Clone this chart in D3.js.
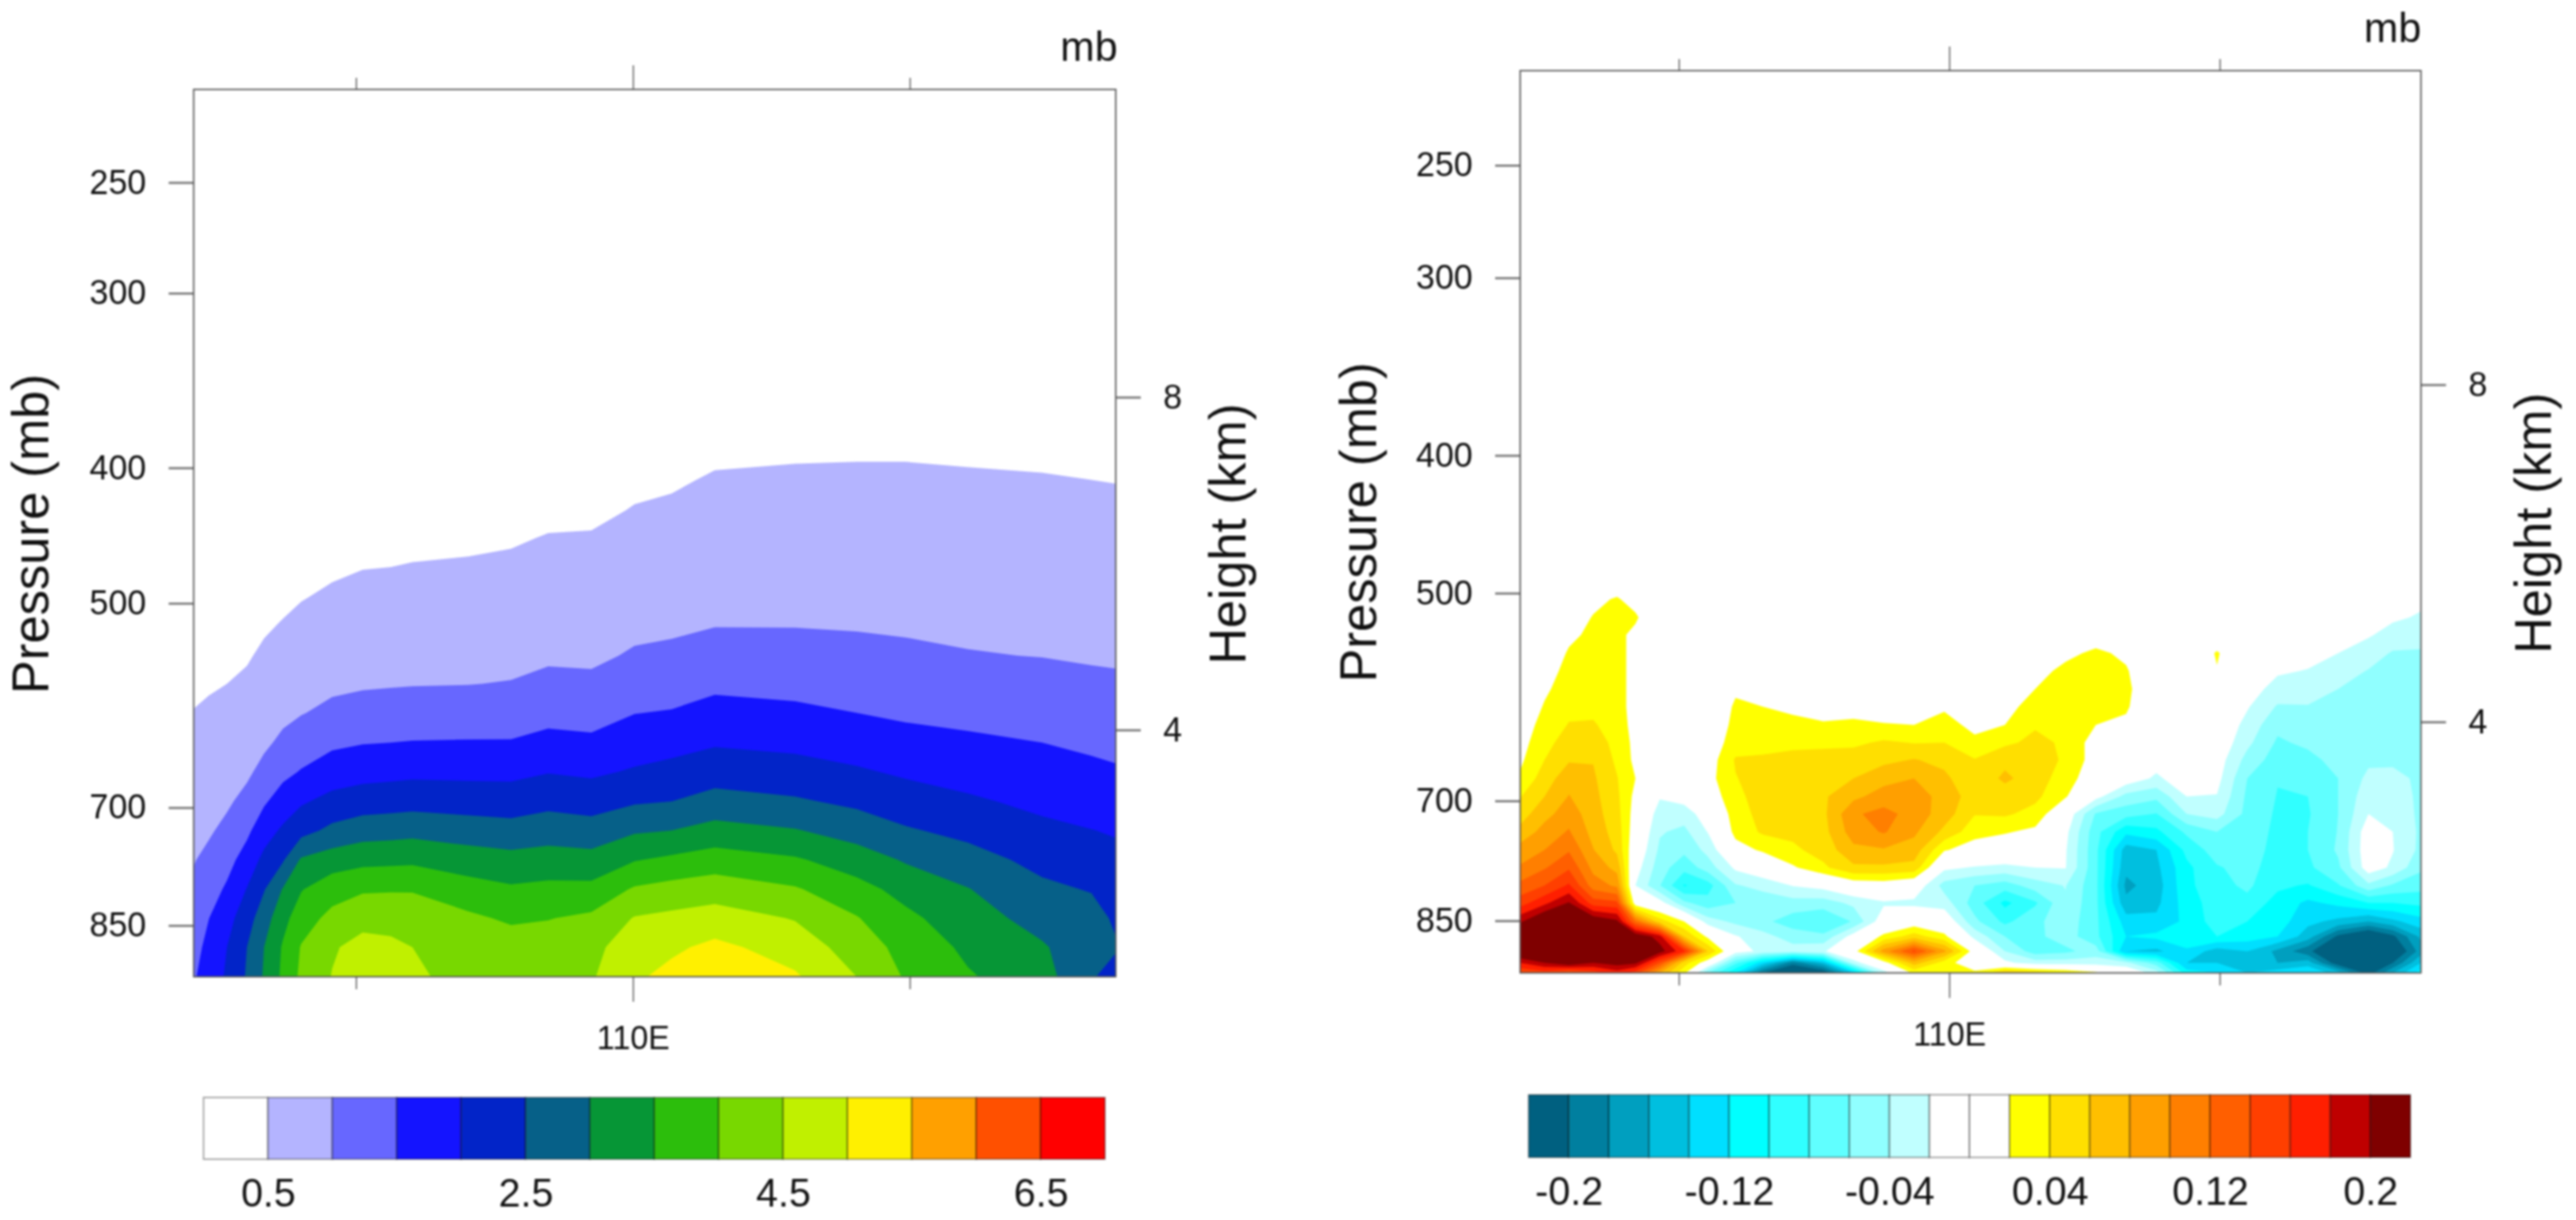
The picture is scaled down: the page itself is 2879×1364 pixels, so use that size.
<!DOCTYPE html>
<html><head><meta charset="utf-8">
<script src="https://d3js.org/d3.v7.min.js"></script>
<style>
html,body{margin:0;padding:0;background:#fff}
svg{display:block;filter:blur(0.8px)}
text{font-family:"Liberation Sans",Arial,sans-serif;fill:#111}
</style></head><body>
<svg id="chart" width="2879" height="1364"></svg>
<script>
// ---------- axis values ----------
const pressureTicks=[250,300,400,500,700,850];
const heightTicks=[4,8];
const lonMajor=[110];
const lonMinor=[105,115];
const lonExtent=[102.07,118.72];
const pressureExtent=[925,214.5];

// ---------- left field: value per column (longitude), bottom to top ----------
const leftPressures=[925,881,840,801,763,727,693,660,629,599,571,545,519,495,471,449,429,408,389];
const leftLons=[102.05,102.34,102.67,103.03,103.34,103.68,104.01,104.57,105.12,105.63,106.02,107.02,107.80,108.47,109.25,110.03,110.70,111.48,112.93,114.04,114.93,116.05,117.39,118.28,118.72];
const leftColumns=[
[1.41,1.30,1.19,1.07,.97,.88,.78,.69,.60,.51,.42,.34,.25,.16,.07,0,0,0,0],
[1.78,1.64,1.49,1.29,1.10,.95,.85,.76,.66,.56,.46,.37,.27,.17,.07,0,0,0,0],
[2.05,2.0,1.82,1.57,1.34,1.10,.94,.83,.72,.61,.50,.39,.28,.17,.06,0,0,0,0],
[2.55,2.5,2.29,2.02,1.7,1.40,1.12,.93,.81,.69,.57,.46,.34,.22,.10,0,0,0,0],
[3.05,3.0,2.77,2.47,2.13,1.78,1.44,1.12,.93,.81,.69,.57,.45,.33,.20,.08,0,0,0],
[3.6,3.55,3.34,3.03,2.45,2.08,1.72,1.38,1.08,.91,.78,.66,.53,.41,.28,.16,.03,0,0],
[4.1,4.03,3.77,3.47,3.06,2.33,1.94,1.53,1.24,.98,.86,.74,.61,.48,.36,.23,.10,0,0],
[4.52,4.45,4.14,3.8,3.25,2.62,2.15,1.75,1.41,1.1,.92,.8,.68,.56,.44,.32,.2,.08,0],
[4.85,4.65,4.36,3.94,3.36,2.78,2.25,1.83,1.48,1.18,.95,.84,.72,.6,.49,.38,.26,.14,.03],
[4.7,4.6,4.34,3.96,3.38,2.81,2.29,1.86,1.5,1.2,.97,.85,.73,.62,.5,.39,.28,.16,.05],
[4.55,4.5,4.24,3.97,3.4,2.85,2.32,1.89,1.52,1.23,.98,.86,.75,.63,.52,.4,.29,.18,.06],
[4.4,4.3,4.1,3.7,3.25,2.75,2.28,1.88,1.53,1.25,.99,.88,.77,.65,.54,.43,.32,.2,.09],
[4.35,4.26,3.92,3.57,3.16,2.69,2.25,1.88,1.53,1.27,1.02,.88,.79,.68,.57,.46,.35,.24,.13],
[4.4,4.25,3.98,3.63,3.21,2.78,2.36,1.98,1.64,1.35,1.1,.94,.83,.73,.62,.52,.41,.3,.2],
[4.45,4.39,4.1,3.64,3.17,2.71,2.29,1.92,1.59,1.33,1.08,.93,.83,.73,.63,.53,.42,.32,.22],
[4.92,4.72,4.53,4.06,3.47,2.94,2.45,2.05,1.76,1.49,1.26,1.04,.92,.82,.72,.62,.52,.42,.32],
[5.15,4.91,4.62,4.18,3.6,3.0,2.5,2.15,1.83,1.53,1.3,1.08,.94,.84,.74,.65,.55,.46,.36],
[5.4,5.12,4.72,4.28,3.74,3.18,2.68,2.28,1.95,1.67,1.4,1.2,.99,.9,.81,.71,.62,.53,.44],
[5.06,4.78,4.47,4.05,3.56,3.03,2.56,2.2,1.88,1.59,1.37,1.17,.99,.9,.81,.72,.63,.55,.46],
[4.5,4.27,4.03,3.68,3.25,2.79,2.4,2.06,1.77,1.5,1.31,1.13,.97,.89,.78,.72,.63,.55,.47],
[3.95,3.83,3.62,3.33,2.95,2.55,2.23,1.93,1.63,1.44,1.26,1.08,.95,.87,.79,.71,.63,.55,.47],
[3.55,3.40,3.2,3.02,2.69,2.37,2.07,1.82,1.58,1.38,1.2,1.02,.93,.85,.77,.69,.61,.54,.45],
[3.2,3.05,2.83,2.6,2.36,2.11,1.89,1.7,1.5,1.32,1.15,.99,.9,.82,.74,.65,.58,.52,.44],
[2.55,2.7,2.7,2.47,2.24,2.01,1.8,1.6,1.42,1.25,1.08,.96,.88,.81,.73,.65,.58,.5,.42],
[2.3,2.55,2.42,2.26,2.12,1.96,1.76,1.55,1.38,1.22,1.06,.95,.87,.8,.72,.65,.57,.49,.41]
];
const leftLevels=[.5,1,1.5,2,2.5,3,3.5,4,4.5,5,5.5,6,6.5];
const leftColors=["#ffffff","#b4b4ff","#6767ff","#1414ff","#0224c8","#066088","#069636","#2cbe0c","#78d800","#c0f000","#fff000","#ffa000","#ff5000","#ff0000"];
const leftBarTicks=[.5,2.5,4.5,6.5];

// ---------- right field: value x100 per column, bottom to top ----------
const rightPressures=[925,910,893,872,851,826,803,780,758,736,715,695,675,655,637,619,601,584,567,551,535,520,505,491];
const rightLons=[102.05,102.52,102.97,103.42,103.86,104.2,104.65,105.1,105.54,106.05,106.55,107.11,107.67,108.23,108.79,109.35,109.91,110.47,111.03,111.59,112.15,112.71,113.27,113.83,114.39,114.95,115.51,116.07,116.63,117.19,117.75,118.2,118.72];
const rightColumns=[
[14,18,23,25,19.5,15,12.5,10.2,8.8,6.5,5,3.8,2.2,1.5,1,.5,0,0,0,0,0,0,0,0],
[15,20,25,26,23,17.5,14,11.8,10,8.8,7.3,6,5,4,3.5,2.9,2.2,1.6,1,.6,.3,0,0,0],
[13,22,27,28,26,20.2,16.3,13.7,11.8,10.2,9.1,8.1,7.2,5.8,4.7,4.1,3.5,3.1,2.7,2.2,1.6,1,.5,0],
[15,20,25,27,22,15,11,9.4,8.1,7.3,6.9,6.6,6.3,5.9,5,4.2,3.5,3.1,2.8,2.6,2.4,2.1,1.5,.5],
[17,21,24,25,20.5,14.5,9.6,7.3,5.6,5.1,4.7,4.4,4.1,3.6,3.4,3.1,3,2.8,2.7,2.6,2.5,2.4,2.2,.8],
[15,20.5,23,22,12,.5,-2,-1,0,.6,1,1.4,2,1.5,1.4,1.2,1,1.2,1.3,1.4,1.5,2.3,1.2,0],
[8,14,21,19,5,-1,-5.9,-5.1,-4.4,-3.8,-3,-1.8,-.5,0,0,0,0,0,0,0,0,0,0,0],
[2.5,5,16.5,6,2,-5.5,-10.2,-7.3,-5.5,-4.5,-3.1,-1,0,0,0,0,0,0,0,0,0,0,0,0],
[-6,.5,6,1.5,-3,-7.2,-8.9,-5,-3.4,-1.9,-.8,.6,1.2,.8,.6,.2,0,0,0,0,0,0,0,0],
[-12,-7.5,-1,-1.8,-4.5,-6,-4.2,-1.6,1.1,2.6,3,3.4,3.9,4.2,3,2.6,2.3,1.7,.5,0,0,0,0,0],
[-20,-13,-2.5,-3.2,-5.5,-5.4,-3.3,-.3,2.3,4.3,4.7,5,4.9,4.3,3.3,2.6,2,1.3,.6,0,0,0,0,0],
[-24,-19,-3,-5,-7,-4.8,-1.9,1.7,3.6,4.5,5,5.3,5.2,4.5,3.6,2.5,1.6,.9,.3,0,0,0,0,0],
[-22,-15,-2.3,-5.5,-8,-5,-1.2,3.6,4.8,5.3,5.5,5.7,5.3,4.7,3.6,2.2,1.2,.5,0,0,0,0,0,0],
[-14,-3,1,-1,-5.8,-3.5,.5,5.6,7.5,9,9.7,7.5,6,5,3.6,2.4,1.2,.6,0,0,0,0,0,0],
[-3,1,9,2.5,-.5,-2.3,.8,5.6,7.8,10.2,10.7,8.9,7.3,5.5,4.3,2.1,1.2,.6,0,0,0,0,0,0],
[2.5,7,14.5,5,.5,-2.5,-.3,5.3,7.1,8.4,9.2,9.1,8,6.1,3.9,2,1.3,.7,0,0,0,0,0,0],
[2.3,3,8.5,2.5,0,-3,-4.8,-1.5,2.2,5.5,7,7.2,6.4,5.5,4,2.8,1.7,.9,.3,0,0,0,0,0],
[2.5,.2,.8,-2.6,-5.5,-7,-6,-2.2,.9,2.8,4.1,5,4.6,4.1,2.5,1.4,.9,.5,.2,0,0,0,0,0],
[6,-1.5,-4,-6,-8.5,-10.5,-7,-2.6,.5,2.2,4.3,5,6.4,5.5,3.6,2,1.5,1,.5,.2,0,0,0,0],
[5,-3,-7,-6.5,-6.5,-8.3,-5,-2,-.3,1.5,3.3,4.5,5,5,4.5,3.8,2.6,2,1.3,.7,.2,0,0,0],
[4,-3,-6.5,-5,-4.8,-4.3,-3.9,-1.9,-1.8,-1.4,-.3,2.2,3,3.7,3.7,3.8,3.2,2.9,2.5,1.5,.8,.2,0,0],
[2.5,-3,-5,-7.5,-7.5,-7.5,-7.5,-7.5,-7.5,-7.3,-6.2,-1.2,.5,1,1,2,2.9,3,2.9,2.4,.9,.3,0,0],
[.5,-3.5,-14,-12,-13,-15.5,-16.5,-15.5,-15,-11.5,-7.2,-4.7,-.6,.3,.7,1.7,2.2,2.5,2.2,1.6,.3,0,0,0],
[-3,-7,-14.5,-11.5,-13.5,-14.5,-15,-14.5,-14,-10.5,-8.1,-5.5,-2.4,-1,0,.3,.5,0,0,0,0,0,0,0],
[-11,-14,-12.5,-10,-11.5,-11,-10.5,-10.5,-9.4,-7.6,-4,-2,-.6,0,0,0,0,0,0,0,0,0,0,0],
[-12,-14,-15,-10,-9,-9,-8.7,-8.2,-7,-6,-3.2,-2.1,-1.3,-.9,-.3,0,0,.5,1.9,2.2,.5,0,0,0],
[-14,-14,-14,-11,-10,-8.6,-7.6,-7.3,-7,-6.8,-6.6,-6.4,-6,-4.7,-3.5,-2.7,-1.8,-1,-.5,0,0,0,0,0],
[-13,-16,-16.5,-12,-11,-10.8,-9.6,-9,-8.7,-8.5,-8.3,-8.1,-7.9,-7,-6.3,-5.5,-4.2,-2.8,-1.7,-.6,0,0,0,0],
[-12,-15,-19.5,-15,-13.5,-12.4,-10.2,-8.4,-8,-8,-8.2,-8,-7.3,-6.6,-5.6,-4.7,-4.1,-3.2,-2.1,-1.2,-.4,0,0,0],
[-15,-21.5,-23,-20.5,-14.5,-11.5,-8.2,-6.4,-5.7,-5.9,-6,-6,-6,-5.3,-4.8,-4.5,-4.2,-4,-3.1,-2,-1.4,-.8,-.2,0],
[-21,-25,-26,-23,-16,-10,-4.5,-.8,-.6,-.7,-2,-2.7,-3.5,-4.4,-4.4,-4.4,-4.4,-4.3,-4.1,-3,-1.8,-1.2,-.5,0],
[-16,-20,-23,-20.5,-14.5,-10,-6.3,-2.4,-1.9,-2,-2.7,-3,-3.4,-4.4,-4.5,-4.5,-4.5,-4.5,-4.4,-4.2,-2.7,-1.7,-.9,-.3],
[-11,-14,-17,-15.5,-12.8,-9.5,-7.2,-5.6,-4.5,-4.4,-4.4,-4.4,-4.4,-4.4,-4.5,-4.5,-4.5,-4.5,-4.5,-4.2,-3.3,-2.2,-1.6,-.9]
];
const rightPositiveLevels=[2,4,6,8,10,12,14,16,18,20];
const rightPositiveColors=["#ffff00","#ffdf00","#ffbf00","#ff9f00","#ff7f00","#ff5f00","#ff3f00","#ff1f00","#bf0000","#7f0000"];
const rightNegativeLevels=[2,4,6,8,10,12,14,16,18,20];
const rightNegativeColors=["#c0ffff","#90ffff","#60ffff","#30ffff","#00ffff","#00dfff","#00bfdf","#009fbf","#007f9f","#006080"];
const rightColors=[...rightNegativeColors].reverse().concat(["#ffffff","#ffffff"],rightPositiveColors);
const rightBarTicks=[-.2,-.12,-.04,.04,.12,.2];

// ---------- layout of the two panels ----------
const leftPanel={x0:216.5,x1:1247,top:100,bottom:1092,h4:816,h8:444,titleL:54,titleR:1392,titleLy:597,titleRy:597,mbY:68,mbX:1249,
  barX0:227.5,barX1:1235,barTop:1227,barBottom:1296,barPad:22,lonPad:27,id:"l"};
const rightPanel={x0:1699,x1:2705.7,top:79,bottom:1087.7,h4:807,h8:430,titleL:1538,titleR:2851,titleLy:584,titleRy:585,mbY:47,mbX:2706,
  barX0:1708.4,barX1:2694,barTop:1224,barBottom:1294,barPad:22,lonPad:27.7,id:"r"};

const svg=d3.select("#chart");

function flatten(cols){
  const nx=cols.length,ny=cols[0].length,v=new Array(nx*ny);
  for(let j=0;j<ny;j++)for(let i=0;i<nx;i++)v[i+j*nx]=cols[i][j];
  return v;
}

function drawFrame(P,x,y,h){
  const g=svg.append("g");
  g.append("g").attr("transform",`translate(${P.x0},0)`)
    .call(d3.axisLeft(y).tickValues(pressureTicks).tickFormat(d3.format("d")).tickSize(28).tickPadding(25))
    .call(a=>a.select(".domain").remove())
    .call(a=>a.selectAll("line").attr("stroke","#777").attr("stroke-width",2.4))
    .call(a=>a.selectAll("text").attr("font-size",38).attr("fill","#111").attr("font-family","Liberation Sans"));
  g.append("g").attr("transform",`translate(${P.x1},0)`)
    .call(d3.axisRight(h).tickValues(heightTicks).tickFormat(d3.format("d")).tickSize(28).tickPadding(25))
    .call(a=>a.select(".domain").remove())
    .call(a=>a.selectAll("line").attr("stroke","#777").attr("stroke-width",2.4))
    .call(a=>a.selectAll("text").attr("font-size",38).attr("fill","#111").attr("font-family","Liberation Sans"));
  const thin=a=>a.call(b=>b.select(".domain").remove()).call(b=>b.selectAll("line").attr("stroke","#555").attr("stroke-width",1.3));
  g.append("g").attr("transform",`translate(0,${P.bottom})`)
    .call(d3.axisBottom(x).tickValues(lonMajor).tickFormat(d=>d+"E").tickSize(28).tickPadding(P.lonPad)).call(thin)
    .call(a=>a.selectAll("text").attr("font-size",36).attr("fill","#111").attr("font-family","Liberation Sans"));
  g.append("g").attr("transform",`translate(0,${P.bottom})`)
    .call(d3.axisBottom(x).tickValues(lonMinor).tickFormat("").tickSize(14)).call(thin);
  g.append("g").attr("transform",`translate(0,${P.top})`)
    .call(d3.axisTop(x).tickValues(lonMajor).tickFormat("").tickSize(27)).call(thin);
  g.append("g").attr("transform",`translate(0,${P.top})`)
    .call(d3.axisTop(x).tickValues(lonMinor).tickFormat("").tickSize(13)).call(thin);
  g.append("rect").attr("x",P.x0).attr("y",P.top).attr("width",P.x1-P.x0).attr("height",P.bottom-P.top)
    .attr("fill","none").attr("stroke","#555").attr("stroke-width",1.6);
  g.append("text").attr("transform",`translate(${P.titleL},${P.titleLy}) rotate(-90)`).attr("text-anchor","middle").attr("font-size",56.5).text("Pressure (mb)");
  g.append("text").attr("transform",`translate(${P.titleR},${P.titleRy}) rotate(-90)`).attr("text-anchor","middle").attr("font-size",56.5).text("Height (km)");
  g.append("text").attr("x",P.mbX).attr("y",P.mbY).attr("text-anchor","end").attr("font-size",46).text("mb");
}

function drawLayer(P,field,nx,ny,levels,colors,ix,iy,x,y){
  const gen=d3.contours().size([nx,ny]).thresholds(levels);
  const proj=d3.geoTransform({point(cx,cy){this.stream.point(x(ix(cx-.5)),y(iy(cy-.5)));}});
  const path=d3.geoPath(proj);
  d3.select(`#field-${P.id}`).selectAll(null).data(gen(field)).enter().append("path")
    .attr("d",path).attr("fill",(d,i)=>colors[i]);
}

function panel(P,lons,pressures){
  const x=d3.scaleLinear().domain(lonExtent).range([P.x0,P.x1]);
  const y=d3.scaleLog().domain(pressureExtent).range([P.bottom,P.top]);
  const h=d3.scaleLinear().domain([4,8]).range([P.h4,P.h8]);
  const ix=d3.scaleLinear().domain(d3.range(lons.length)).range(lons);
  const iy=d3.scaleLinear().domain(d3.range(pressures.length)).range(pressures);
  svg.append("clipPath").attr("id",`clip-${P.id}`).append("rect")
    .attr("x",P.x0).attr("y",P.top).attr("width",P.x1-P.x0).attr("height",P.bottom-P.top);
  svg.append("g").attr("clip-path",`url(#clip-${P.id})`).append("g").attr("id",`field-${P.id}`);
  return {x,y,h,ix,iy};
}

function colorbar(P,domain,colors,ticks,fmt){
  const s=d3.scaleLinear().domain(domain).range([P.barX0,P.barX1]);
  const step=(domain[1]-domain[0])/colors.length;
  const g=svg.append("g");
  g.selectAll("rect").data(colors).enter().append("rect")
    .attr("x",(d,i)=>s(domain[0]+i*step)).attr("y",P.barTop)
    .attr("width",(d,i)=>s(domain[0]+(i+1)*step)-s(domain[0]+i*step)).attr("height",P.barBottom-P.barTop)
    .attr("fill",d=>d).attr("stroke","#000").attr("stroke-opacity",.38).attr("stroke-width",1.6);
  g.append("g").attr("transform",`translate(0,${P.barBottom})`)
    .call(d3.axisBottom(s).tickValues(ticks).tickFormat(fmt).tickSize(0).tickPadding(P.barPad))
    .call(a=>a.select(".domain").remove())
    .call(a=>a.selectAll("text").attr("font-size",44).attr("fill","#111").attr("font-family","Liberation Sans"));
}

const L=panel(leftPanel,leftLons,leftPressures);
drawLayer(leftPanel,flatten(leftColumns),leftLons.length,leftPressures.length,leftLevels,leftColors.slice(1),L.ix,L.iy,L.x,L.y);
drawFrame(leftPanel,L.x,L.y,L.h);
colorbar(leftPanel,[0,7],leftColors,leftBarTicks,d=>d.toString());

const R=panel(rightPanel,rightLons,rightPressures);
const posField=flatten(rightColumns);
const negField=posField.map(v=>-v);
drawLayer(rightPanel,posField,rightLons.length,rightPressures.length,rightPositiveLevels,rightPositiveColors,R.ix,R.iy,R.x,R.y);
drawLayer(rightPanel,negField,rightLons.length,rightPressures.length,rightNegativeLevels,rightNegativeColors,R.ix,R.iy,R.x,R.y);
drawFrame(rightPanel,R.x,R.y,R.h);
colorbar(rightPanel,[-.22,.22],rightColors,rightBarTicks,d=>d.toString());
</script>
</body></html>
